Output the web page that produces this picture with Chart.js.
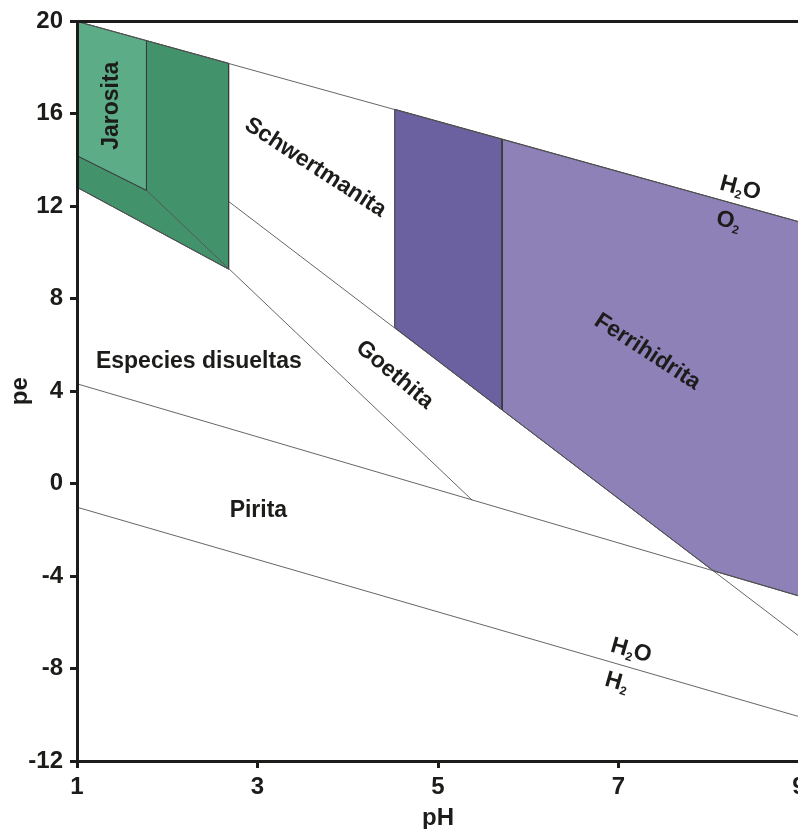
<!DOCTYPE html>
<html>
<head>
<meta charset="utf-8">
<script src="https://cdn.jsdelivr.net/npm/chart.js@4.4.1/dist/chart.umd.min.js"></script>
<style>
  html, body { margin: 0; padding: 0; background: #fff; overflow: hidden; }
  #wrap { width: 830px; height: 829px; }
</style>
</head>
<body>
<div id="wrap"><canvas id="chart"></canvas></div>
<script>
// axis ticks
const phTicks = [1, 3, 5, 7, 9];
const peTicks = [-12, -8, -4, 0, 4, 8, 12, 16, 20];

// boundary lines, [pH, pe]
const lineO2 = [[1, 20], [9, 11.33]];
const lineH2 = [[1, -1.02], [9, -10.08]];
const lineDisueltas = [[1, 4.32], [9, -4.86]];
const lineGoethita = [[1.77, 12.69], [5.38, -0.72]];
const lineFerri = [[2.68, 12.21], [9, -6.6]];
const lineGreenBase = [[1, 12.82], [2.68, 9.28]];

// stability fields, [pH, pe]
const jarosita = [[1, 20], [1.77, 19.17], [1.77, 12.69], [1, 14.19]];
const jarositaDark = [[1, 14.19], [1.77, 12.69], [1.77, 19.17], [2.68, 18.19], [2.68, 9.28], [1, 12.82]];
const schwertDark = [[4.52, 16.2], [5.71, 14.91], [5.71, 3.19], [4.52, 6.75]];
const ferrihidrita = [[5.71, 14.91], [9, 11.33], [9, -4.86], [8.05, -3.77], [5.71, 3.19]];

// text labels, [text, pH, pe, angle]
const regionLabels = [
  ['Jarosita', 1.38, 16.35, -90],
  ['Schwertmanita', 3.64, 13.68, 33],
  ['Ferrihidrita', 7.32, 5.70, 33],
  ['Goethita', 4.52, 4.71, 40],
  ['Especies disueltas', 2.35, 5.27, 0],
  ['Pirita', 3.01, -1.15, 0]
];
const formulaLabels = [
  [[['H', 0], ['2', 1], ['O', 0]], 8.35, 12.77, 15],
  [[['O', 0], ['2', 1]], 8.22, 11.35, 15],
  [[['H', 0], ['2', 1], ['O', 0]], 7.14, -7.23, 16],
  [[['H', 0], ['2', 1]], 6.98, -8.6, 16]
];

const fontFamily = '"Liberation Sans", Arial, Helvetica, sans-serif';
const ink = '#1c1c1a';
const edge = '#3a3a3a';

function toXY(pts) {
  return pts.map(p => ({ x: p[0], y: p[1] }));
}

function polygon(pts, colour) {
  return {
    data: toXY(pts.concat([pts[0]])),
    showLine: true,
    fill: 'shape',
    backgroundColor: colour,
    borderColor: edge,
    borderWidth: 1,
    pointRadius: 0
  };
}

function boundary(pts) {
  return {
    data: toXY(pts),
    showLine: true,
    fill: false,
    borderColor: '#555555',
    borderWidth: 0.9,
    pointRadius: 0
  };
}

const labelPlugin = {
  id: 'regionLabels',
  afterDatasetsDraw(chart) {
    const { ctx, scales: { x, y } } = chart;
    ctx.save();
    ctx.fillStyle = ink;
    ctx.textBaseline = 'middle';
    regionLabels.forEach(([text, ph, pe, angle]) => {
      ctx.save();
      ctx.translate(x.getPixelForValue(ph), y.getPixelForValue(pe));
      ctx.rotate(angle * Math.PI / 180);
      ctx.font = 'bold 23px ' + fontFamily;
      ctx.textAlign = 'center';
      ctx.fillText(text, 0, 0);
      ctx.restore();
    });
    formulaLabels.forEach(([parts, ph, pe, angle]) => {
      ctx.save();
      ctx.translate(x.getPixelForValue(ph), y.getPixelForValue(pe));
      ctx.rotate(angle * Math.PI / 180);
      ctx.textAlign = 'left';
      let w = 0;
      parts.forEach(([t, sub]) => {
        ctx.font = 'bold ' + (sub ? 12 : 23) + 'px ' + fontFamily;
        w += ctx.measureText(t).width;
      });
      let cx = -w / 2;
      parts.forEach(([t, sub]) => {
        ctx.font = 'bold ' + (sub ? 12 : 23) + 'px ' + fontFamily;
        ctx.fillText(t, cx, sub ? 7 : 0);
        cx += ctx.measureText(t).width;
      });
      ctx.restore();
    });
    ctx.restore();
  }
};

const tickFont = { family: fontFamily, size: 24, weight: 'bold' };
const titleFont = { family: fontFamily, size: 24, weight: 'bold', lineHeight: 0.9 };
const axisGrid = { drawOnChartArea: false, drawTicks: true, tickLength: 7, tickWidth: 3, tickColor: ink };
const axisBorder = { display: true, color: ink, width: 3, z: 1 };

new Chart(document.getElementById('chart'), {
  type: 'scatter',
  data: {
    datasets: [
      boundary(lineO2),
      boundary(lineH2),
      boundary(lineDisueltas),
      boundary(lineGoethita),
      boundary(lineFerri),
      boundary(lineGreenBase),
      polygon(jarosita, '#5cac88'),
      polygon(jarositaDark, '#42926c'),
      polygon(schwertDark, '#6b60a0'),
      polygon(ferrihidrita, '#8d81b8')
    ]
  },
  options: {
    animation: false,
    responsive: true,
    maintainAspectRatio: false,
    layout: { padding: { top: 0, right: 31, bottom: 0, left: 0 } },
    plugins: { legend: { display: false }, tooltip: { enabled: false } },
    scales: {
      x: {
        type: 'linear',
        position: 'bottom',
        min: 1,
        max: 9,
        afterBuildTicks: s => { s.ticks = phTicks.map(v => ({ value: v })); },
        afterFit: s => { s.height = 68; },
        ticks: { font: tickFont, color: ink, padding: 5, maxRotation: 0 },
        grid: axisGrid,
        border: axisBorder,
        title: { display: true, text: 'pH', font: titleFont, color: ink, padding: { top: 0, bottom: 0 } }
      },
      xTop: {
        type: 'linear',
        position: 'top',
        min: 1,
        max: 9,
        afterFit: s => { s.height = 19; },
        ticks: { display: false },
        grid: { display: false },
        border: axisBorder
      },
      y: {
        min: -12,
        max: 20,
        afterBuildTicks: s => { s.ticks = peTicks.map(v => ({ value: v })); },
        afterFit: s => { s.width = 77; },
        ticks: { font: tickFont, color: ink, padding: 7 },
        grid: axisGrid,
        border: axisBorder,
        title: { display: true, text: 'pe', font: titleFont, color: ink, padding: { top: 10, bottom: 0 } }
      }
    }
  },
  plugins: [labelPlugin]
});
</script>
</body>
</html>
